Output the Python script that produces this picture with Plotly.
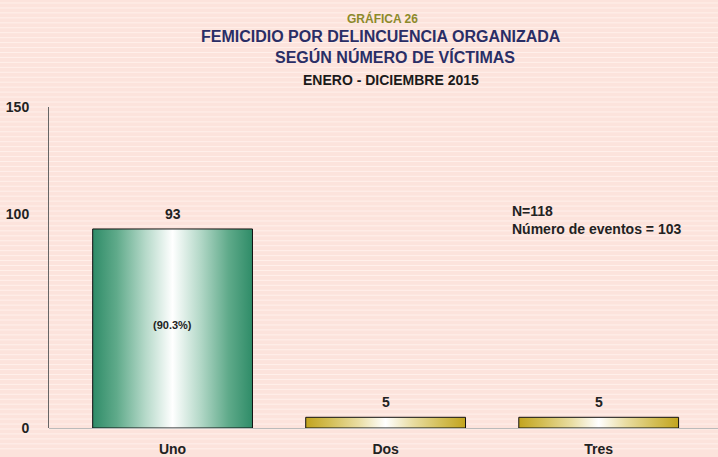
import plotly.graph_objects as go

categories = ["Uno", "Dos", "Tres"]
values = [93, 5, 5]
pct_labels = ["(90.3%)", "", ""]
yticks = [0, 100, 150]
note_lines = ["N=118", "Número de eventos = 103"]

green_scale = [[0, "#2F8C68"], [0.15, "#5FAA8A"], [0.33, "#B5D9C9"], [0.5, "#FFFFFF"],
               [0.67, "#B5D9C9"], [0.85, "#5FAA8A"], [1, "#2F8C68"]]
yellow_scale = [[0, "#C2A41E"], [0.15, "#D3BE55"], [0.33, "#E9DDA2"], [0.5, "#FFFFFF"],
                [0.67, "#E9DDA2"], [0.85, "#D3BE55"], [1, "#C2A41E"]]
scales = [green_scale, yellow_scale, yellow_scale]

W, H = 718, 457
bar_w = 0.75
font = "Liberation Sans, Arial, sans-serif"
fig = go.Figure()

for i, (c, v) in enumerate(zip(categories, values)):
    x0, x1 = i - bar_w / 2, i + bar_w / 2
    fig.add_trace(go.Scatter(
        x=[x0, x1, x1, x0, x0], y=[0, 0, v, v, 0],
        mode="lines", fill="toself",
        fillgradient=dict(type="horizontal", colorscale=scales[i]),
        line=dict(color="#111111", width=1),
        hoverinfo="skip", showlegend=False))

annotations = []
for i, v in enumerate(values):
    annotations.append(dict(x=i, y=v, xref="x", yref="y", text="<b>%d</b>" % v, showarrow=False,
                            yanchor="bottom", yshift=5, font=dict(family=font, size=14, color="#222222")))
for i, p in enumerate(pct_labels):
    if p:
        annotations.append(dict(x=i, y=values[i] * 0.52, xref="x", yref="y", text="<b>" + p + "</b>",
                                showarrow=False, font=dict(family=font, size=11, color="#222222")))

pix_annotations = [
    dict(x=382, y=H - 18, text="<b>GRÁFICA 26</b>", font=dict(family=font, size=12, color="#8C8A2A")),
    dict(x=381, y=H - 36, text="<b>FEMICIDIO POR DELINCUENCIA ORGANIZADA</b>",
         font=dict(family=font, size=16, color="#2A2E66")),
    dict(x=395, y=H - 57, text="<b>SEGÚN NÚMERO DE VÍCTIMAS</b>",
         font=dict(family=font, size=16, color="#2A2E66")),
    dict(x=391, y=H - 80, text="<b>ENERO - DICIEMBRE 2015</b>",
         font=dict(family=font, size=14, color="#1A1A1A")),
    dict(x=510, y=H - 202, text="<b>" + "<br>".join(note_lines) + "</b>",
         xanchor="left", yanchor="top", align="left",
         font=dict(family=font, size=14, color="#222222")),
]
ml, mr, mt, mb = 49, 0, 107, 26
pw, ph = W - ml - mr, H - mt - mb
for a in pix_annotations:
    a.setdefault("xanchor", "center")
    a.setdefault("yanchor", "middle")
    a.update(xref="paper", yref="paper", showarrow=False,
             x=(a["x"] - ml) / pw, y=(a["y"] - mb) / ph)
    annotations.append(a)

# striped background
shapes = []
for k in range(2, H, 5):
    y = (H - k - mb) / ph
    shapes.append(dict(type="line", xref="paper", yref="paper", x0=-ml / pw, x1=1 + mr / pw + 0.01,
                       y0=y, y1=y, line=dict(color="#FFF0EB", width=1), layer="below"))

fig.update_layout(
    width=W, height=H,
    margin=dict(l=ml, r=mr, t=mt, b=mb),
    paper_bgcolor="#FCE3DC", plot_bgcolor="rgba(0,0,0,0)",
    shapes=shapes, annotations=annotations,
    xaxis=dict(range=[-0.58, 2.56], tickvals=list(range(len(categories))),
               ticktext=["<b>%s</b>" % c for c in categories],
               showgrid=False, zeroline=False, showline=False, ticks="outside", ticklen=8,
               tickcolor="rgba(0,0,0,0)", tickfont=dict(family=font, size=14, color="#222222")),
    yaxis=dict(range=[0, 150], tickvals=yticks, ticktext=["<b>%d</b>" % t for t in yticks],
               showgrid=False, zeroline=True, zerolinecolor="#BBBBBB", zerolinewidth=1,
               showline=True, linecolor="#666666", linewidth=1,
               ticks="outside", ticklen=16, tickcolor="rgba(0,0,0,0)",
               tickfont=dict(family=font, size=14, color="#222222")),
    showlegend=False,
)

fig.write_html("out.html", config={"displayModeBar": False},
               post_script="document.body.style.margin='0';document.body.style.background='#FCE3DC';")
